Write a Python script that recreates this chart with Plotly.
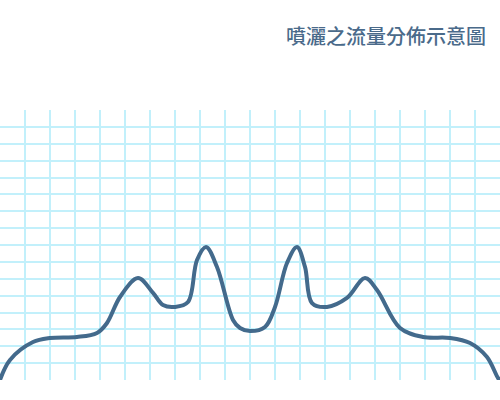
import plotly.graph_objects as go

# Flow distribution profile (grid units: x 0-20, y 0-16)
x_pos = [0, 0.4, 1.32, 2, 3.08, 3.88, 4.28, 4.8, 5.52, 6.12, 6.52, 7, 7.52, 7.88, 8.24,
         8.68, 9.32, 9.6, 10, 10.6, 11, 11.48, 11.88, 12.2, 12.48, 13.08, 13.88, 14.6,
         15.08, 16, 16.92, 18, 18.8, 19.48, 19.92, 20]
flow = [0, 1.19, 2.25, 2.49, 2.55, 2.79, 3.38, 4.92, 6.04, 5.16, 4.44, 4.33, 4.62, 7.11, 7.88,
        6.70, 3.56, 3.08, 2.90, 3.14, 4.33, 6.93, 7.88, 6.70, 4.56, 4.33, 4.86, 6.04,
        5.33, 3.08, 2.55, 2.49, 2.19, 1.36, 0.12, 0]

title_text = "噴灑之流量分佈示意圖"

fig = go.Figure()
fig.add_trace(go.Scatter(
    x=x_pos, y=flow, mode="lines",
    line=dict(color="#436a8c", width=4, shape="spline", smoothing=1.0),
    hoverinfo="skip", showlegend=False,
))

fig.update_xaxes(range=[0, 20], dtick=1, showgrid=True, gridcolor="#c2f0fb", gridwidth=1.5,
                 zeroline=False, showticklabels=False, showline=False, ticks="")
fig.update_yaxes(range=[0, 16], dtick=1, showgrid=True, gridcolor="#c2f0fb", gridwidth=1.5,
                 zeroline=False, showticklabels=False, showline=False, ticks="")

fig.add_annotation(
    text=title_text, xref="paper", yref="paper", x=0.976, y=(380 - 35) / 270,
    xanchor="right", yanchor="middle", showarrow=False,
    font=dict(family="Noto Sans CJK TC", size=20, color="#4a6a8a", weight=500),
)

fig.update_layout(
    width=500, height=400,
    margin=dict(l=0, r=0, t=110, b=20),
    paper_bgcolor="white", plot_bgcolor="white",
)

fig.write_html("out.html", config={"displayModeBar": False},
               post_script="document.body.style.margin='0';")
